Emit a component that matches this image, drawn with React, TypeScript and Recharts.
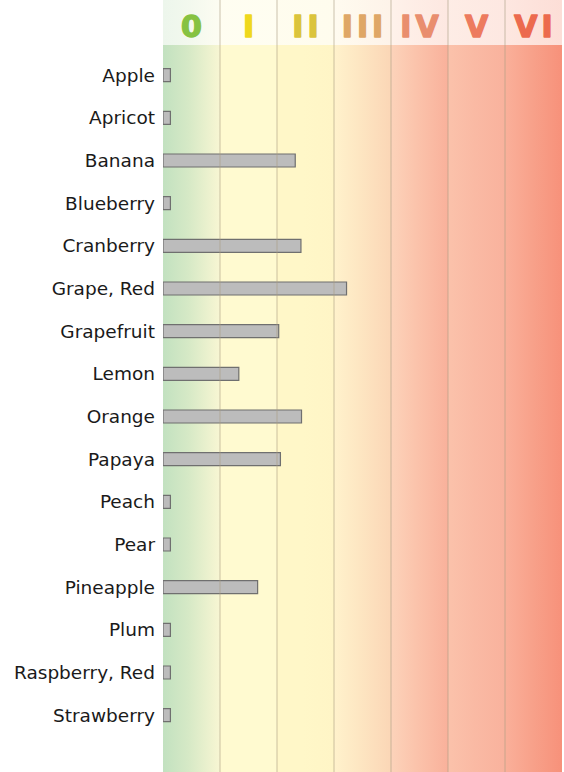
import React from 'react';
import { BarChart, Bar, XAxis, YAxis, ReferenceArea, ReferenceLine } from 'recharts';

const fruits = [
  'Apple', 'Apricot', 'Banana', 'Blueberry', 'Cranberry', 'Grape, Red', 'Grapefruit', 'Lemon',
  'Orange', 'Papaya', 'Peach', 'Pear', 'Pineapple', 'Plum', 'Raspberry, Red', 'Strawberry',
];
const levels = [0.13, 0.13, 2.32, 0.13, 2.42, 3.22, 2.03, 1.33, 2.43, 2.06, 0.13, 0.13, 1.66, 0.13, 0.13, 0.13];
const classLabels = ['0', 'I', 'II', 'III', 'IV', 'V', 'VI'];
const classColors = ['#86c242', '#efd81c', '#dbc43c', '#dfa766', '#e98e6e', '#ed7b5e', '#ec6a4e'];
const classGradients = [
  ['#c2e1c0', '#d6e9c6', '#f8f6d3'],
  ['#fffad0', '#fffad0', '#fffad0'],
  ['#fff7c8', '#fff7c8', '#fff5c6'],
  ['#fff2cc', '#fde6c2', '#fbd6b6'],
  ['#fcd3ba', '#fbc3ab', '#f9b19b'],
  ['#fbc2ab', '#fabaa4', '#f9b29d'],
  ['#fab09a', '#f8a28b', '#f7917a'],
];
const gridLines = [1, 2, 3, 4, 5, 6];

const Y_TOP = -1.758;
const Y_HEADER = -0.703;
const Y_BOTTOM = 16.336;

const data = fruits.map((name, i) => ({ name, idx: i, value: levels[i] }));

function HeaderLabel(props: any) {
  const { viewBox, text, color } = props;
  if (!viewBox) return null;
  const cx = viewBox.x + viewBox.width / 2 + 2;
  const cy = viewBox.y + viewBox.height / 2 + 4;
  return (
    <text
      x={cx}
      y={cy}
      textAnchor="middle"
      dominantBaseline="central"
      fill={color}
      stroke={color}
      strokeWidth={1.4}
      strokeLinejoin="round"
      fontSize={30}
      fontWeight={700}
      letterSpacing={4}
      fontFamily='"DejaVu Sans", sans-serif'
    >
      {text}
    </text>
  );
}

export default function App() {
  return (
    <div style={{ position: 'absolute', left: 0, top: 0, width: 564, height: 772, background: '#fff' }}>
      <BarChart
        width={564}
        height={772}
        data={data}
        layout="vertical"
        margin={{ top: 0, right: 2, bottom: 0, left: 0 }}
        style={{ fontFamily: '"DejaVu Sans", sans-serif' }}
      >
        <defs>
          {classGradients.map((g, i) => (
            <linearGradient key={i} id={`col${i}`} x1="0" y1="0" x2="1" y2="0">
              <stop offset="0%" stopColor={g[0]} />
              <stop offset="45%" stopColor={g[1]} />
              <stop offset="100%" stopColor={g[2]} />
            </linearGradient>
          ))}
        </defs>
        <XAxis type="number" domain={[0, 7]} hide allowDataOverflow />
        <YAxis
          type="number"
          dataKey="idx"
          domain={[Y_TOP, Y_BOTTOM]}
          allowDataOverflow
          ticks={fruits.map((_, i) => i)}
          interval={0}
          tickFormatter={(v: number) => fruits[v] ?? ''}
          width={163}
          axisLine={false}
          tickLine={false}
          tick={{ fontSize: 18.5, fill: '#1a1a1a' }}
        />
        {classLabels.map((lab, i) => (
          <ReferenceArea
            key={`b${i}`}
            x1={i}
            x2={i + 1}
            y1={Y_HEADER}
            y2={Y_BOTTOM}
            fill={`url(#col${i})`}
            fillOpacity={1}
            stroke="none"
          />
        ))}
        {classLabels.map((lab, i) => (
          <ReferenceArea
            key={`h${i}`}
            x1={i}
            x2={i + 1}
            y1={Y_TOP}
            y2={Y_HEADER}
            fill={`url(#col${i})`}
            fillOpacity={0.3}
            stroke="none"
            label={<HeaderLabel text={lab} color={classColors[i]} />}
          />
        ))}
        {gridLines.map((x) => (
          <ReferenceLine key={`g${x}`} x={x} stroke="#a89c80" strokeOpacity={0.3} strokeWidth={2} />
        ))}
        <Bar dataKey="value" barSize={13} fill="#bcbcbc" stroke="#6f6f6f" strokeWidth={1.2} isAnimationActive={false} />
      </BarChart>
    </div>
  );
}
